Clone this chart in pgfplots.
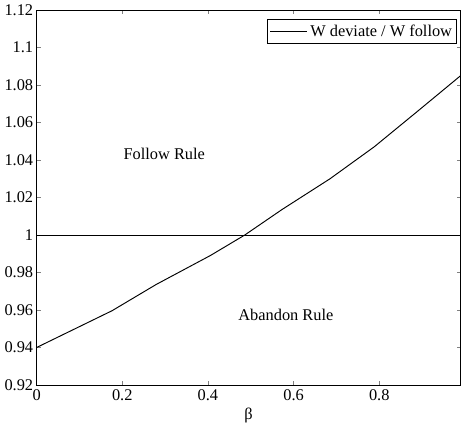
\documentclass[border=0pt]{standalone}
\usepackage{fontspec}
\setmainfont{Liberation Serif}
\usepackage{pgfplots}
\pgfplotsset{compat=1.18}

\begin{document}
\begin{tikzpicture}
\begin{axis}[
    scale only axis,
    width=311pt, height=275pt,
    xmin=0, xmax=0.99, ymin=0.92, ymax=1.12,
    xtick={0,0.2,0.4,0.6,0.8},
    ytick={0.92,0.94,...,1.12},
    yticklabels={0.92,0.94,0.96,0.98,1,1.02,1.04,1.06,1.08,1.1,1.12},
    tick align=inside, tick pos=both,
    major tick length=3pt,
    tick label style={font=\fontsize{12}{14}\selectfont},
    yticklabel style={xshift=1pt},
    /pgf/number format/assume math mode=true,
    xlabel={β}, xlabel style={font=\fontsize{12}{14}\selectfont, yshift=2pt},
    legend style={at={(0.992,0.975)}, anchor=north east,
        font=\fontsize{12}{14}\selectfont,
        draw=black, line width=0.6pt, inner sep=1.5pt},
    legend image code/.code={\draw[#1, line width=0.6pt] (0cm,0cm) -- (0.95cm,0cm);},
    legend cell align=left,
    axis line style={line width=0.6pt},
]
\addplot[black, line width=0.7pt] coordinates {
    (0,0.940) (0.176,0.9596) (0.279,0.9736) (0.406,0.9891) (0.486,1.0)
    (0.573,1.0136) (0.685,1.030) (0.788,1.047) (0.891,1.0663) (0.99,1.085)
};
\addlegendentry{W deviate / W follow}
\addplot[black, line width=0.6pt, forget plot] coordinates {(0,1) (0.99,1)};
\node[font=\fontsize{12}{14}\selectfont] at (axis cs:0.298,1.0435) {Follow Rule};
\node[font=\fontsize{12}{14}\selectfont] at (axis cs:0.582,0.9575) {Abandon Rule};
\path (rel axis cs:1,0) ++(2pt,0) coordinate (r);
\useasboundingbox (r);
\end{axis}
\end{tikzpicture}
\end{document}
